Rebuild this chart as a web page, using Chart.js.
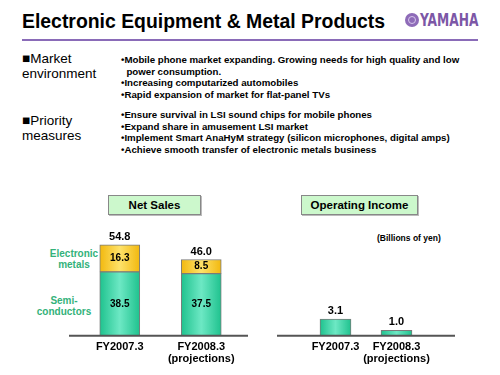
<!DOCTYPE html>
<html>
<head>
<meta charset="utf-8">
<script src="https://cdn.jsdelivr.net/npm/chart.js@4.4.0/dist/chart.umd.min.js"></script>
<style>
body{margin:0;width:500px;height:375px;position:relative;background:#fff;font-family:"Liberation Sans",Arial,sans-serif;overflow:hidden;color:#000}
.abs{position:absolute;white-space:nowrap}
#title{left:22px;top:10px;font-size:19.4px;font-weight:bold}
#rule{left:22px;top:39px;width:456px;height:2px;background:#8a6bb8}
#emblem{left:405px;top:13px;width:14px;height:14px;border-radius:50%;background:#8e6bb8}
#emblem:after{content:"";position:absolute;left:3px;top:3px;width:8px;height:8px;border-radius:50%;border:1px solid #d8c8ec;box-sizing:border-box}
#logo{left:420px;top:10px;color:#7c57a6;font-weight:bold;font-size:17px;font-family:"DejaVu Sans Condensed","Liberation Sans Narrow",sans-serif;transform:scaleX(0.8);transform-origin:0 0}
.head{left:22px;font-size:13.5px;line-height:14.5px}
.bul{left:121px;font-size:9.7px;font-weight:bold;line-height:11.6px}
.box{background:#ccf8cc;border:1px solid #888;box-shadow:1px 1px 0 #bbb;font-size:11.5px;font-weight:bold;text-align:center;line-height:18px}
.leg{color:#33b27a;font-size:10px;font-weight:bold;text-align:center;line-height:10.5px}
.chart{position:absolute}
</style>
</head>
<body>
<div class="abs" id="title">Electronic Equipment &amp; Metal Products</div>
<div class="abs" id="emblem"></div>
<div class="abs" id="logo">YAMAHA</div>
<div class="abs" id="rule"></div>

<div class="abs head" style="top:52px">&#9632;Market<br>environment</div>
<div class="abs bul" style="top:54px">&#8226;Mobile phone market expanding. Growing needs for high quality and low<br>&nbsp;&nbsp;power consumption.<br>&#8226;Increasing computarized automobiles<br>&#8226;Rapid expansion of market for flat-panel TVs</div>

<div class="abs head" style="top:114px">&#9632;Priority<br>measures</div>
<div class="abs bul" style="top:109px">&#8226;Ensure survival in LSI sound chips for mobile phones<br>&#8226;Expand share in amusement LSI market<br>&#8226;Implement Smart AnaHyM strategy (silicon microphones, digital amps)<br>&#8226;Achieve smooth transfer of electronic metals business</div>

<div class="abs box" style="left:108px;top:195px;width:91px;height:18px">Net Sales</div>
<div class="abs box" style="left:301px;top:195px;width:115px;height:18px">Operating Income</div>
<div class="abs" style="left:377px;top:233px;font-size:8.5px;font-weight:bold">(Billions of yen)</div>

<div class="abs leg" style="left:44px;top:249px;width:60px">Electronic<br>metals</div>
<div class="abs leg" style="left:34px;top:296px;width:60px">Semi-<br>conductors</div>

<div class="chart" style="left:59px;top:215px;width:203px;height:155px"><canvas id="sales"></canvas></div>
<div class="chart" style="left:275px;top:215px;width:182px;height:155px"><canvas id="income"></canvas></div>

<script>
const years = [["FY2007.3"], ["FY2008.3", "(projections)"]];
const semiconductors = [38.5, 37.5];
const electronicMetals = [16.3, 8.5];
const salesTotals = [54.8, 46.0];
const operatingIncome = [3.1, 1.0];

const edge = '#7a7a7a';

// bars are lighter in the middle, darker at the sides
function shade(light, dark, w) {
  return c => {
    const ch = c.chart;
    if (!ch.chartArea || c.dataIndex === undefined) return light;
    const x = ch.scales.x.getPixelForValue(c.dataIndex);
    const g = ch.ctx.createLinearGradient(x - w / 2, 0, x + w / 2, 0);
    g.addColorStop(0, dark);
    g.addColorStop(0.5, light);
    g.addColorStop(1, dark);
    return g;
  };
}

// numbers on and above the bars
const valueLabels = {
  id: 'valueLabels',
  afterDatasetsDraw(chart, args, opts) {
    const c = chart.ctx;
    c.save();
    c.textAlign = 'center';
    c.textBaseline = 'middle';
    c.fillStyle = '#000';
    chart.data.datasets.forEach((ds, i) => {
      const meta = chart.getDatasetMeta(i);
      meta.data.forEach((bar, j) => {
        if (opts.inside) {
          c.font = 'bold 10px "Liberation Sans", Arial';
          c.fillText(ds.data[j].toFixed(1), bar.x, (bar.y + bar.base) / 2);
        }
      });
    });
    const lastMeta = chart.getDatasetMeta(chart.data.datasets.length - 1);
    lastMeta.data.forEach((bar, j) => {
      c.font = 'bold 11px "Liberation Sans", Arial';
      c.fillText(opts.totals[j].toFixed(1), bar.x, bar.y - 8);
    });
    c.restore();
  }
};

// long base line under both bars
const baseLine = {
  id: 'baseLine',
  afterDraw(chart, args, opts) {
    const c = chart.ctx, a = chart.chartArea;
    c.save();
    c.strokeStyle = '#555';
    c.lineWidth = 2;
    c.beginPath();
    c.moveTo(a.left - opts.left, a.bottom);
    c.lineTo(a.right + opts.right, a.bottom);
    c.stroke();
    c.restore();
  }
};

function xAxis() {
  return {
    grid: { display: false, drawTicks: false },
    border: { display: false },
    ticks: {
      color: '#000', padding: 5, autoSkip: false, maxRotation: 0, minRotation: 0,
      font: { family: '"Liberation Sans", Arial', size: 11, weight: 'bold', lineHeight: 1.1 }
    },
    // labels may hang past the bars, don't shrink the plot for them
    afterFit(scale) {
      scale.paddingLeft = 0;
      scale.paddingRight = 0;
    }
  };
}

new Chart(document.getElementById('sales'), {
  type: 'bar',
  data: {
    labels: years,
    datasets: [
      { data: semiconductors, backgroundColor: shade('#6de8c4', '#1fc28e', 40), borderColor: edge, borderWidth: 1, barThickness: 40, borderSkipped: false },
      { data: electronicMetals, backgroundColor: shade('#fee26a', '#f2b80e', 40), borderColor: edge, borderWidth: 1, barThickness: 40, borderSkipped: false }
    ]
  },
  options: {
    responsive: true,
    maintainAspectRatio: false,
    animation: false,
    layout: { padding: { top: 13, left: 20, right: 20, bottom: 0 } },
    plugins: {
      legend: { display: false },
      tooltip: { enabled: false },
      valueLabels: { inside: true, totals: salesTotals },
      baseLine: { left: 10, right: 6 }
    },
    scales: {
      x: Object.assign(xAxis(), { stacked: true }),
      y: { stacked: true, display: false, min: 0, max: 65 }
    }
  },
  plugins: [valueLabels, baseLine]
});

new Chart(document.getElementById('income'), {
  type: 'bar',
  data: {
    labels: years,
    datasets: [
      { data: operatingIncome, backgroundColor: shade('#6de8c4', '#1fc28e', 31), borderColor: edge, borderWidth: 1, barThickness: 31, borderSkipped: false }
    ]
  },
  options: {
    responsive: true,
    maintainAspectRatio: false,
    animation: false,
    layout: { padding: { top: 13, left: 30, right: 30, bottom: 0 } },
    plugins: {
      legend: { display: false },
      tooltip: { enabled: false },
      valueLabels: { inside: false, totals: operatingIncome },
      baseLine: { left: 28, right: 28 }
    },
    scales: {
      x: xAxis(),
      y: { display: false, min: 0, max: 20 }
    }
  },
  plugins: [valueLabels, baseLine]
});
</script>
</body>
</html>
